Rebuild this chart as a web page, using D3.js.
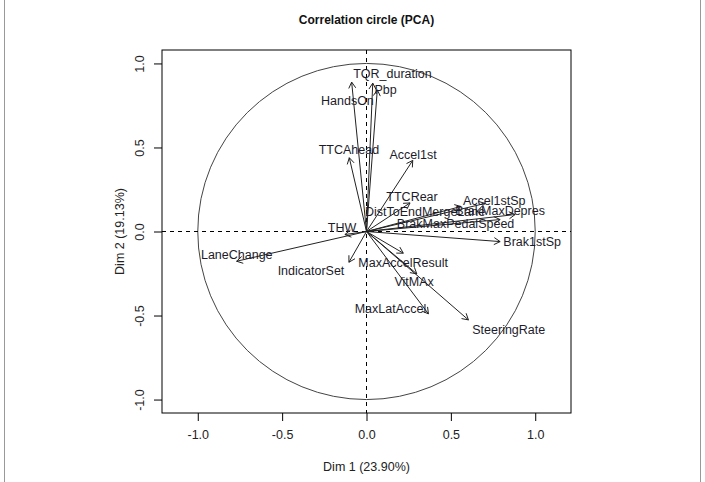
<!DOCTYPE html>
<html>
<head>
<meta charset="utf-8">
<script src="https://cdn.jsdelivr.net/npm/d3@7"></script>
<style>
  body { margin: 0; background: #fff; }
  text { font-family: "Liberation Sans", Arial, sans-serif; }
</style>
</head>
<body>
<script>
// variables and their coordinates on Dim 1 / Dim 2
const vars = ["TQR_duration", "Pbp", "HandsOn", "TTCAhead", "Accel1st", "TTCRear",
  "Accel1stSp", "DistToEndMergeLane", "BrakMaxDepres", "BrakMaxPedalSpeed", "THW",
  "Brak1stSp", "LaneChange", "IndicatorSet", "MaxAccelResult", "VitMAx", "MaxLatAccel", "SteeringRate"]
const dim1 = [0.037, 0.064, -0.088, -0.102, 0.274, 0.258, 0.703, 0.56, 0.881, 0.792, -0.128,
  0.792, -0.770, -0.104, 0.218, 0.298, 0.367, 0.604]
const dim2 = [0.883, 0.843, 0.889, 0.439, 0.423, 0.170, 0.167, 0.149, 0.101, 0.071, -0.018,
  -0.060, -0.177, -0.183, -0.129, -0.252, -0.490, -0.526]
// where the (de-overlapped) labels ended up, in Dim units
const labelX = [0.154, 0.113, -0.113, -0.104, 0.276, 0.270, 0.757, 0.347, 0.792, 0.528, -0.145,
  0.982, -0.769, -0.329, 0.217, 0.282, 0.142, 0.843]
const labelY = [0.940, 0.845, 0.780, 0.488, 0.458, 0.208, 0.185, 0.119, 0.125, 0.048, 0.024,
  -0.060, -0.137, -0.235, -0.185, -0.298, -0.458, -0.583]

const ticks = [-1, -0.5, 0, 0.5, 1]
const tickLabels = ["-1.0", "-0.5", "0.0", "0.5", "1.0"]
const xlim = [-1.212, 1.212]
const ylim = [-1.08, 1.08]

const width = 705, height = 482
const plotLeft = 162, plotRight = 571, plotTop = 50, plotBottom = 413

const x = d3.scaleLinear(xlim, [plotLeft, plotRight])
const y = d3.scaleLinear(ylim, [plotBottom, plotTop])
const fmt = d => tickLabels[ticks.indexOf(d)]

const svg = d3.select("body").append("svg")
  .attr("width", width)
  .attr("height", height)

// outer frame of the picture
svg.append("line").attr("x1", 4.5).attr("x2", 4.5).attr("y1", 0).attr("y2", height).attr("stroke", "#999")
svg.append("line").attr("x1", 700.5).attr("x2", 700.5).attr("y1", 0).attr("y2", height).attr("stroke", "#999")

svg.append("text")
  .attr("x", (plotLeft + plotRight) / 2)
  .attr("y", 24)
  .attr("text-anchor", "middle")
  .style("font-family", "'Liberation Sans Narrow', 'Liberation Sans', Arial, sans-serif")
  .style("font-weight", "bold")
  .style("font-size", "12px")
  .attr("fill", "#111")
  .text("Correlation circle (PCA)")

const plot = svg.append("g")

// unit circle
plot.append("ellipse")
  .attr("cx", x(0)).attr("cy", y(0))
  .attr("rx", x(1) - x(0)).attr("ry", y(0) - y(1))
  .attr("fill", "none")
  .attr("stroke", "#444")

// dashed axes through the origin
plot.append("line")
  .attr("x1", plotLeft).attr("x2", plotRight).attr("y1", y(0)).attr("y2", y(0))
  .attr("stroke", "#000").attr("stroke-dasharray", "4,4")
plot.append("line")
  .attr("x1", x(0)).attr("x2", x(0)).attr("y1", plotTop).attr("y2", plotBottom)
  .attr("stroke", "#000").attr("stroke-dasharray", "4,4")

// arrows
const headLen = 7, headAng = Math.PI / 6
const arrows = plot.append("g").attr("stroke", "#222").attr("fill", "none")
vars.forEach((v, i) => {
  const x0 = x(0), y0 = y(0), x1 = x(dim1[i]), y1 = y(dim2[i])
  const a = Math.atan2(y1 - y0, x1 - x0)
  arrows.append("line").attr("x1", x0).attr("y1", y0).attr("x2", x1).attr("y2", y1)
  arrows.append("path").attr("d",
    `M${x1 - headLen * Math.cos(a - headAng)},${y1 - headLen * Math.sin(a - headAng)}` +
    `L${x1},${y1}` +
    `L${x1 - headLen * Math.cos(a + headAng)},${y1 - headLen * Math.sin(a + headAng)}`)
})

plot.append("g")
  .selectAll("text")
  .data(vars)
  .join("text")
  .attr("x", (d, i) => x(labelX[i]))
  .attr("y", (d, i) => y(labelY[i]))
  .attr("dy", "0.35em")
  .attr("text-anchor", "middle")
  .attr("fill", "#1c1c2c")
  .style("font-size", "12.5px")
  .text(d => d)

// frame
svg.append("rect")
  .attr("x", plotLeft).attr("y", plotTop)
  .attr("width", plotRight - plotLeft).attr("height", plotBottom - plotTop)
  .attr("fill", "none").attr("stroke", "#000")

const xAxis = svg.append("g")
  .attr("transform", `translate(0,${plotBottom})`)
  .call(d3.axisBottom(x).tickValues(ticks).tickFormat(fmt).tickSizeOuter(0).tickSize(8).tickPadding(9))
xAxis.select(".domain").remove()
xAxis.selectAll("text").style("font-size", "12.5px").attr("fill", "#222")

const yAxis = svg.append("g")
  .attr("transform", `translate(${plotLeft},0)`)
  .call(d3.axisLeft(y).tickValues(ticks).tickFormat(fmt).tickSizeOuter(0).tickSize(8))
yAxis.select(".domain").remove()
yAxis.selectAll("text")
  .style("font-size", "12.5px").attr("fill", "#222")
  .attr("x", null).attr("dy", null)
  .attr("text-anchor", "middle")
  .attr("transform", "translate(-18,0) rotate(-90)")

svg.append("text")
  .attr("x", (plotLeft + plotRight) / 2)
  .attr("y", 471)
  .attr("text-anchor", "middle")
  .style("font-size", "12.5px")
  .attr("fill", "#222")
  .text("Dim 1 (23.90%)")

svg.append("text")
  .attr("transform", `translate(124,${(plotTop + plotBottom) / 2}) rotate(-90)`)
  .attr("text-anchor", "middle")
  .style("font-size", "12.5px")
  .attr("fill", "#222")
  .text("Dim 2 (19.13%)")
</script>
</body>
</html>
